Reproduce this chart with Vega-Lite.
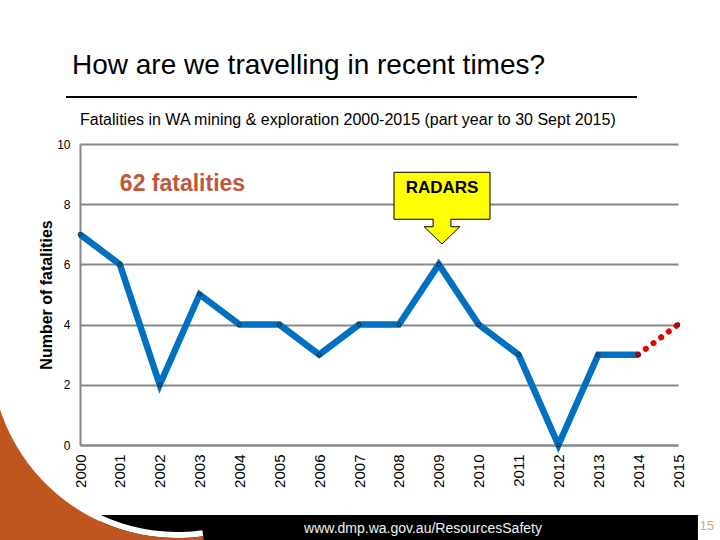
{
  "$schema": "https://vega.github.io/schema/vega-lite/v6.json",
  "width": 598,
  "height": 301,
  "autosize": {"type": "none"},
  "padding": {"left": 80, "top": 144, "right": 42, "bottom": 95},
  "background": "#ffffff",
  "config": {
    "view": {"stroke": null},
    "font": "Liberation Sans",
    "axis": {"labelFont": "Liberation Sans", "titleFont": "Liberation Sans"},
    "axisX": {
      "labelOverlap": false, "labelFlush": false, "labelAngle": 270, "labelFontSize": 15,
      "labelColor": "#000000", "labelPadding": 9, "ticks": false, "grid": false,
      "domainColor": "#888888", "domainWidth": 2, "labelSeparation": 0
    },
    "axisY": {
      "ticks": false, "grid": true, "gridColor": "#888888", "gridWidth": 2,
      "domainColor": "#888888", "domainWidth": 2, "labelOverlap": false,
      "labelFontSize": 12, "labelColor": "#000000", "labelPadding": 10,
      "titleFontSize": 16, "titleFontWeight": "bold", "titleColor": "#000000", "titlePadding": 2
    }
  },
  "data": {
    "values": [
      {"year": 2000, "fatalities": 7},
      {"year": 2001, "fatalities": 6},
      {"year": 2002, "fatalities": 2},
      {"year": 2003, "fatalities": 5},
      {"year": 2004, "fatalities": 4},
      {"year": 2005, "fatalities": 4},
      {"year": 2006, "fatalities": 3},
      {"year": 2007, "fatalities": 4},
      {"year": 2008, "fatalities": 4},
      {"year": 2009, "fatalities": 6},
      {"year": 2010, "fatalities": 4},
      {"year": 2011, "fatalities": 3},
      {"year": 2012, "fatalities": 0},
      {"year": 2013, "fatalities": 3},
      {"year": 2014, "fatalities": 3},
      {"year": 2015, "fatalities": 4}
    ]
  },
  "layer": [
    {
      "transform": [{"filter": "datum.year <= 2014"}],
      "mark": {"type": "line", "color": "#0070C0", "strokeWidth": 6.5, "strokeJoin": "miter", "strokeMiterLimit": 10},
      "encoding": {
        "x": {"field": "year", "type": "quantitative", "scale": {"domain": [2000, 2015], "nice": false, "zero": false},
          "axis": {"title": null, "values": [2000, 2001, 2002, 2003, 2004, 2005, 2006, 2007, 2008, 2009, 2010, 2011, 2012, 2013, 2014, 2015], "format": "d"}},
        "y": {"field": "fatalities", "type": "quantitative", "scale": {"domain": [0, 10], "nice": false},
          "axis": {"title": "Number of fatalities", "values": [0, 2, 4, 6, 8, 10]}}
      }
    },
    {
      "data": {"values": [{}]},
      "mark": {"type": "rect", "color": "#000000", "opacity": 1},
      "encoding": {
        "x": {"datum": 2000.5, "axis": {"title": null, "values": [2000, 2001, 2002, 2003, 2004, 2005, 2006, 2007, 2008, 2009, 2010, 2011, 2012, 2013, 2014, 2015], "format": "d"}},
        "x2": {"datum": 2015.5},
        "y": {"datum": -2.326, "axis": {"title": "Number of fatalities", "values": [0, 2, 4, 6, 8, 10]}},
        "y2": {"datum": -3.3}
      }
    },
    {
      "data": {"values": [{}]},
      "mark": {"type": "arc", "radius": 186, "radius2": 180, "theta": 3.0, "theta2": 4.8, "color": "#ffffff", "opacity": 1},
      "encoding": {
        "x": {"datum": 2002.433, "axis": {"title": null, "values": [2000, 2001, 2002, 2003, 2004, 2005, 2006, 2007, 2008, 2009, 2010, 2011, 2012, 2013, 2014, 2015], "format": "d"}},
        "y": {"datum": 3.09, "axis": {"title": "Number of fatalities", "values": [0, 2, 4, 6, 8, 10]}}
      }
    },
    {
      "data": {"values": [{}]},
      "mark": {"type": "arc", "radius": 700, "radius2": 186, "theta": 3.0, "theta2": 4.8, "color": "#C0561F", "opacity": 1},
      "encoding": {
        "x": {"datum": 2002.433, "axis": {"title": null, "values": [2000, 2001, 2002, 2003, 2004, 2005, 2006, 2007, 2008, 2009, 2010, 2011, 2012, 2013, 2014, 2015], "format": "d"}},
        "y": {"datum": 3.09, "axis": {"title": "Number of fatalities", "values": [0, 2, 4, 6, 8, 10]}}
      }
    },
    {
      "transform": [{"filter": "datum.year >= 2014"}],
      "mark": {"type": "line", "color": "#E60000", "strokeWidth": 6, "strokeDash": [0.1, 9.5], "strokeCap": "round"},
      "encoding": {
        "x": {"field": "year", "type": "quantitative", "axis": {"title": null, "values": [2000, 2001, 2002, 2003, 2004, 2005, 2006, 2007, 2008, 2009, 2010, 2011, 2012, 2013, 2014, 2015], "format": "d"}},
        "y": {"field": "fatalities", "type": "quantitative", "axis": {"title": "Number of fatalities", "values": [0, 2, 4, 6, 8, 10]}}
      }
    },
    {
      "transform": [{"filter": "datum.year <= 2013"}],
      "mark": {"type": "point", "filled": true, "size": 14, "fill": "#0070C0", "stroke": "#222222", "strokeWidth": 1, "opacity": 1},
      "encoding": {
        "x": {"field": "year", "type": "quantitative", "axis": {"title": null, "values": [2000, 2001, 2002, 2003, 2004, 2005, 2006, 2007, 2008, 2009, 2010, 2011, 2012, 2013, 2014, 2015], "format": "d"}},
        "y": {"field": "fatalities", "type": "quantitative", "axis": {"title": "Number of fatalities", "values": [0, 2, 4, 6, 8, 10]}}
      }
    },
    {
      "transform": [{"filter": "datum.year >= 2014"}],
      "mark": {"type": "point", "filled": true, "size": 14, "fill": "#E60000", "stroke": "#222222", "strokeWidth": 1, "opacity": 1},
      "encoding": {
        "x": {"field": "year", "type": "quantitative", "axis": {"title": null, "values": [2000, 2001, 2002, 2003, 2004, 2005, 2006, 2007, 2008, 2009, 2010, 2011, 2012, 2013, 2014, 2015], "format": "d"}},
        "y": {"field": "fatalities", "type": "quantitative", "axis": {"title": "Number of fatalities", "values": [0, 2, 4, 6, 8, 10]}}
      }
    },
    {
      "data": {"values": [{}]},
      "mark": {
        "type": "point",
        "shape": "M-1,-0.744L1,-0.744L1,0.235L0.185,0.235L0.185,0.39L0.372,0.39L0,0.75L-0.372,0.39L-0.185,0.39L-0.185,0.235L-1,0.235Z",
        "size": 9216, "filled": true, "fill": "#FFFF00", "stroke": "#000000", "strokeWidth": 1, "opacity": 1
      },
      "encoding": {
        "x": {"datum": 2009.08, "axis": {"title": null, "values": [2000, 2001, 2002, 2003, 2004, 2005, 2006, 2007, 2008, 2009, 2010, 2011, 2012, 2013, 2014, 2015], "format": "d"}},
        "y": {"datum": 7.874, "axis": {"title": "Number of fatalities", "values": [0, 2, 4, 6, 8, 10]}}
      }
    },
    {
      "data": {"values": [{}]},
      "mark": {"type": "text", "text": "RADARS", "fontSize": 17, "fontWeight": "bold", "color": "#000000", "align": "center", "baseline": "alphabetic"},
      "encoding": {
        "x": {"datum": 2009.08, "axis": {"title": null, "values": [2000, 2001, 2002, 2003, 2004, 2005, 2006, 2007, 2008, 2009, 2010, 2011, 2012, 2013, 2014, 2015], "format": "d"}},
        "y": {"datum": 8.372, "axis": {"title": "Number of fatalities", "values": [0, 2, 4, 6, 8, 10]}}
      }
    },
    {
      "data": {"values": [{}]},
      "mark": {"type": "text", "text": "62 fatalities", "fontSize": 23, "fontWeight": "bold", "color": "#C0573A", "align": "center", "baseline": "alphabetic"},
      "encoding": {
        "x": {"datum": 2002.571, "axis": {"title": null, "values": [2000, 2001, 2002, 2003, 2004, 2005, 2006, 2007, 2008, 2009, 2010, 2011, 2012, 2013, 2014, 2015], "format": "d"}},
        "y": {"datum": 8.439, "axis": {"title": "Number of fatalities", "values": [0, 2, 4, 6, 8, 10]}}
      }
    },
    {
      "data": {"values": [{}]},
      "mark": {"type": "text", "text": "How are we travelling in recent times?", "fontSize": 28, "color": "#000000", "align": "left", "baseline": "alphabetic"},
      "encoding": {
        "x": {"datum": 1999.799, "axis": {"title": null, "values": [2000, 2001, 2002, 2003, 2004, 2005, 2006, 2007, 2008, 2009, 2010, 2011, 2012, 2013, 2014, 2015], "format": "d"}},
        "y": {"datum": 12.326, "axis": {"title": "Number of fatalities", "values": [0, 2, 4, 6, 8, 10]}}
      }
    },
    {
      "data": {"values": [{}]},
      "mark": {"type": "rule", "color": "#000000", "strokeWidth": 2},
      "encoding": {
        "x": {"datum": 1999.649, "axis": {"title": null, "values": [2000, 2001, 2002, 2003, 2004, 2005, 2006, 2007, 2008, 2009, 2010, 2011, 2012, 2013, 2014, 2015], "format": "d"}},
        "x2": {"datum": 2013.972},
        "y": {"datum": 11.561, "axis": {"title": "Number of fatalities", "values": [0, 2, 4, 6, 8, 10]}}
      }
    },
    {
      "data": {"values": [{}]},
      "mark": {"type": "text", "text": "Fatalities in WA mining & exploration 2000-2015 (part year to 30 Sept 2015)", "fontSize": 16, "color": "#000000", "align": "left", "baseline": "alphabetic"},
      "encoding": {
        "x": {"datum": 2000.0, "axis": {"title": null, "values": [2000, 2001, 2002, 2003, 2004, 2005, 2006, 2007, 2008, 2009, 2010, 2011, 2012, 2013, 2014, 2015], "format": "d"}},
        "y": {"datum": 10.631, "axis": {"title": "Number of fatalities", "values": [0, 2, 4, 6, 8, 10]}}
      }
    },
    {
      "data": {"values": [{}]},
      "mark": {"type": "text", "text": "www.dmp.wa.gov.au/ResourcesSafety", "fontSize": 14, "color": "#F2F2F2", "align": "center", "baseline": "alphabetic"},
      "encoding": {
        "x": {"datum": 2008.604, "axis": {"title": null, "values": [2000, 2001, 2002, 2003, 2004, 2005, 2006, 2007, 2008, 2009, 2010, 2011, 2012, 2013, 2014, 2015], "format": "d"}},
        "y": {"datum": -2.924, "axis": {"title": "Number of fatalities", "values": [0, 2, 4, 6, 8, 10]}}
      }
    },
    {
      "data": {"values": [{}]},
      "mark": {"type": "text", "text": "15", "fontSize": 13, "color": "#D9A27A", "align": "center", "baseline": "alphabetic"},
      "encoding": {
        "x": {"datum": 2015.727, "axis": {"title": null, "values": [2000, 2001, 2002, 2003, 2004, 2005, 2006, 2007, 2008, 2009, 2010, 2011, 2012, 2013, 2014, 2015], "format": "d"}},
        "y": {"datum": -2.824, "axis": {"title": "Number of fatalities", "values": [0, 2, 4, 6, 8, 10]}}
      }
    }
  ]
}
